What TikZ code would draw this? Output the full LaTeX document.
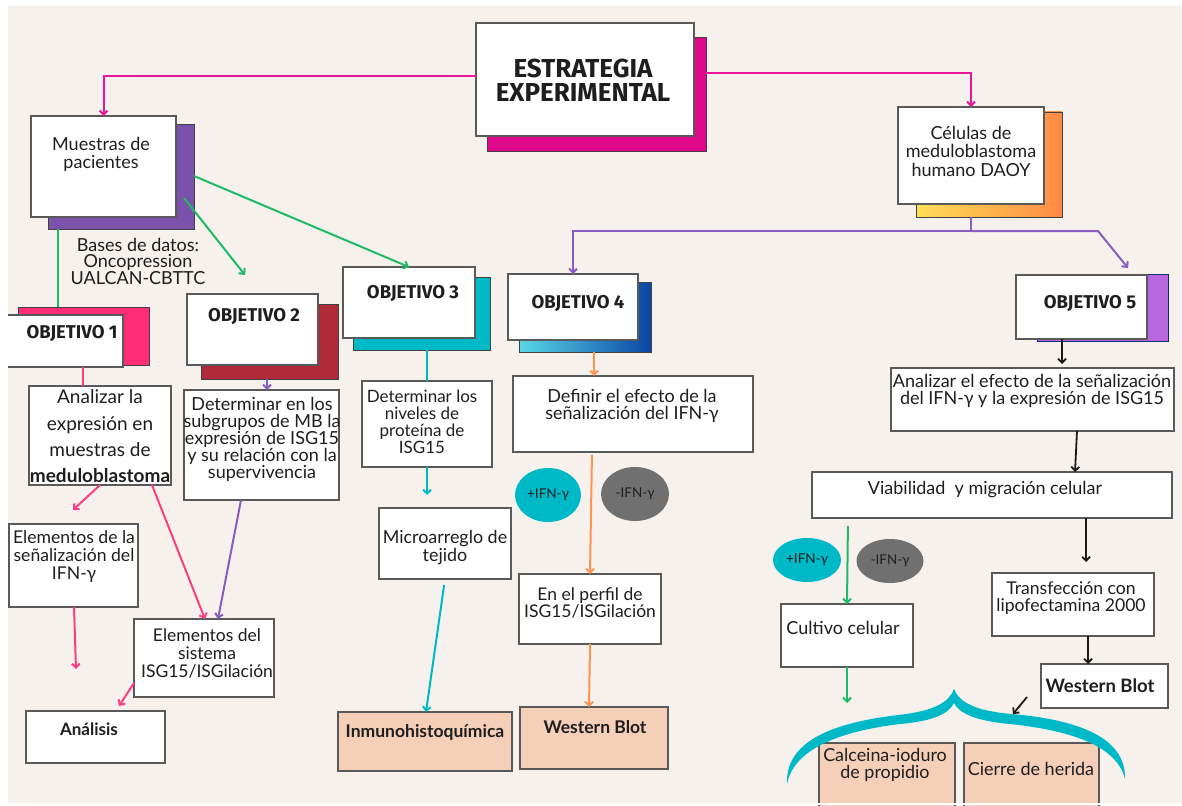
\documentclass[tikz,border=0pt]{standalone}
\usepackage{fontspec}
\setmainfont{Lato}
\newfontfamily\hdr{Fira Sans}
\usetikzlibrary{arrows.meta,fit,shapes.geometric,calc}
\definecolor{bg}{HTML}{F6F1EC}
\definecolor{txt}{HTML}{1E1E1E}
\definecolor{mag}{HTML}{E0088A}
\definecolor{magl}{HTML}{E8179A}
\definecolor{purp}{HTML}{7B52AB}
\definecolor{purl}{HTML}{8A5CC0}
\definecolor{grn}{HTML}{1FBA66}
\definecolor{pinkS}{HTML}{FF2D78}
\definecolor{pinkl}{HTML}{FF3D82}
\definecolor{dred}{HTML}{B02B39}
\definecolor{teal}{HTML}{00B9C6}
\definecolor{orgl}{HTML}{FF9452}
\definecolor{oA}{HTML}{5AD8E6}
\definecolor{oB}{HTML}{0A46A6}
\definecolor{oFive}{HTML}{B768DC}
\definecolor{peach}{HTML}{F5CFB8}
\definecolor{gry}{HTML}{707070}
\definecolor{yel}{HTML}{FFDE55}
\definecolor{org}{HTML}{FF8A45}
\newcommand{\bx}[6][]{\node[fit={(#3,#4) (#5,#6)},inner sep=0pt,outer sep=0pt,rectangle,#1] (#2) {};}
\begin{document}
\begin{tikzpicture}[x=1pt,y=-1pt,
  wb/.style={draw=black!65,line width=1.1pt,fill=white},
  shd/.style={draw=black!75,line width=0.8pt},
  pch/.style={draw=black!65,line width=1.1pt,fill=peach},
  tx/.style={inner sep=0pt,align=center,text=txt,font=\fontsize{18}{17}\selectfont},
  hd/.style={inner sep=0pt,align=center,text=txt,font=\hdr\bfseries\fontsize{18.5}{20}\selectfont},
  bt/.style={inner sep=0pt,align=center,text=txt,font=\bfseries\fontsize{17.5}{19}\selectfont},
  arr/.style={-{Straight Barb[length=4pt,width=8pt]}},
  ell/.style={ellipse,inner sep=0pt,text=txt,font=\fontsize{13.5}{15}\selectfont},
  lmag/.style={draw=magl,line width=2pt},
  lpur/.style={draw=purl,line width=2pt},
  lgrn/.style={draw=grn,line width=2pt},
  lpnk/.style={draw=pinkl,line width=2pt},
  ltea/.style={draw=teal,line width=2pt},
  lorg/.style={draw=orgl,line width=2pt},
  lblk/.style={draw=black!90,line width=1.8pt}]
\useasboundingbox (0,0) rectangle (1182,805);
\fill[white] (0,0) rectangle (1182,805);
\fill[bg] (8,6) rectangle (1182,803);

% main
\bx[shd,fill=mag]{mainS}{487}{37}{706}{151}
\bx[wb]{main}{476}{23}{694}{136}
\node[hd,font=\hdr\bfseries\fontsize{26}{24}\selectfont] (mainT) at (583,80) {ESTRATEGIA\\EXPERIMENTAL};

% muestras
\bx[shd,fill=purp]{muesS}{48}{124}{194}{229}
\bx[wb]{mues}{31}{116}{176}{217}
\node[tx,font=\fontsize{18}{18}\selectfont] (muesT) at (101,154) {Muestras de\\pacientes};

% celulas
\bx[shd,left color=yel,right color=org]{celS}{916}{112}{1062}{217}
\bx[wb]{cel}{898}{107}{1044}{204}
\node[tx,font=\fontsize{18}{18.5}\selectfont] (celT) at (971,151) {Células de\\meduloblastoma\\humano DAOY};

% top connectors
\draw[lmag,arr] (main.west |- 0,76) -| (mues.north);
\draw[lmag,arr] (mainS.east |- 0,73) -| (cel.north);
\coordinate (pj) at (971,231);
\coordinate (pk) at (1098,231);
\coordinate (p5e) at (1128,268);
\draw[lpur] (celS.south -| cel.south) -- (pj);
\draw[lpur,arr] (pj) -- (pk) -- (p5e);

% bases de datos
\node[tx,font=\fontsize{18}{16.5}\selectfont] (bases) at (138,261) {Bases de datos:\\Oncopression\\UALCAN-CBTTC};

% OBJ 1
\bx[shd,fill=pinkS]{obj1S}{18}{307}{149}{365}
\bx[wb]{obj1}{3}{315}{123}{367}
\node[hd] (obj1T) at (72,333) {OBJETIVO 1};
\bx[wb]{ana}{29}{386}{171}{485}
\node[tx,font=\fontsize{19}{26.3}\selectfont] (anaT) at (100,436.5) {Analizar la\\expresión en\\muestras de\\\textbf{meduloblastoma}};
\bx[wb]{sen}{9}{524}{138}{607}
\node[tx,font=\fontsize{17.6}{18}\selectfont] (senT) at (74,557) {Elementos de la\\señalización del\\IFN-γ};
\bx[wb]{sis}{134}{619}{274}{697}
\node[tx,font=\fontsize{17.5}{18}\selectfont] (sisT) at (207,653) {Elementos del\\sistema\\ISG15/ISGilación};
\bx[wb]{anl}{26}{711}{165}{763}
\node[bt,font=\bfseries\fontsize{17}{19}\selectfont] (anlT) at (89,729) {Análisis};

% OBJ 2
\bx[shd,fill=dred]{obj2S}{201}{304}{338}{379}
\bx[wb]{obj2}{187}{294}{318}{365}
\node[hd] (obj2T) at (254,316) {OBJETIVO 2};
\bx[wb]{det}{184}{390}{339}{500}
\node[tx] (detT) at (262,439) {Determinar en los\\subgrupos de MB la\\expresión de ISG15\\y su relación con la\\supervivencia};

% OBJ 3
\bx[shd,fill=teal]{obj3S}{353}{277}{490}{350}
\bx[wb]{obj3}{343}{267}{475}{338}
\node[hd] (obj3T) at (413,293) {OBJETIVO 3};
\bx[wb]{niv}{362}{381}{492}{467}
\node[tx,font=\fontsize{17}{16.8}\selectfont] (nivT) at (422,422) {Determinar los\\niveles de\\proteína de\\ISG15};
\bx[wb]{mic}{379}{508}{511}{579}
\node[tx,font=\fontsize{17.9}{18}\selectfont] (micT) at (445,548) {Microarreglo de\\tejido};
\bx[pch]{inm}{338}{712}{512}{771}
\node[bt] (inmT) at (425,732) {Inmunohistoquímica};
\draw[ltea] (obj3S.south -| 427,0) -- (niv.north -| 427,0);
\draw[ltea,arr,shorten >=13pt] (niv.south -| 427,0) -- (mic.north -| 427,0);
\draw[ltea,arr,shorten <=6pt] (mic.south -| 445,0) -- (inm.north -| 426,0);

% green from muestras
\draw[lgrn] (muesS.south -| 58,0) -- (obj1S.north -| 58,0);
\coordinate (g1e) at (245,275);
\draw[lgrn,arr] ($(muesS.south east)+(-10,-31)$) -- (g1e);
\draw[lgrn,arr] (muesS.east |- 0,176) -- (obj3.north);

% obj1/2 connectors
\draw[lpnk] (obj1.south -| 83,0) -- (ana.north -| 83,0);
\draw[lpur,arr] (obj2S.south -| 267,0) -- (det.north -| 267,0);
\coordinate (p1e) at (73,510);
\draw[lpnk,arr] (ana.south -| 100,0) -- (p1e);
\draw[lpnk,arr] (ana.south -| 152,0) -- (sis.north -| 205,0);
\draw[lpur,arr] (det.south -| 241,0) -- (sis.north -| 218,0);
\coordinate (p2e) at (76,669);
\draw[lpnk,arr] (sen.south -| 74,0) -- (p2e);
\coordinate (p3e) at (119,706);
\draw[lpnk,arr] (sis.west |- 0,683) -- (p3e);

% OBJ 4
\bx[shd,left color=oA,right color=oB]{obj4S}{519}{282}{651}{352}
\bx[wb]{obj4}{508}{274}{638}{340}
\node[hd] (obj4T) at (578,303) {OBJETIVO 4};
\draw[lpur,arr] (pj) -| (obj4.north);
\bx[wb]{def}{513}{376}{753}{452}
\node[tx] (defT) at (632,405.5) {Definir el efecto de la\\señalización del IFN-γ};
\node[ell,fill=teal,minimum width=66pt,minimum height=54pt] (ip4) at (548,495) {+IFN-γ};
\node[ell,fill=gry,minimum width=68pt,minimum height=54pt] (im4) at (635,494) {-IFN-γ};
\bx[wb]{per}{519}{574}{661}{644}
\node[tx,font=\fontsize{17.5}{17}\selectfont] (perT) at (590,602.5) {En el perfil de\\ISG15/ISGilación};
\bx[pch]{wb4}{520}{707}{668}{769}
\node[bt] (wb4T) at (595,727) {Western Blot};
\draw[lorg,arr] (obj4S.south -| 594,0) -- (def.north -| 594,0);
\draw[lorg,arr,shorten <=3pt] (def.south -| 592,0) -- (per.north -| 590,0);
\draw[lorg,arr] (per.south -| 590,0) -- (wb4.north -| 589,0);

% OBJ 5
\bx[shd,fill=oFive,draw=oB!70!black]{obj5S}{1037}{274}{1168}{341}
\bx[wb]{obj5}{1016}{275}{1147}{339}
\node[hd] (obj5T) at (1090,303) {OBJETIVO 5};
\bx[wb]{ane}{891}{368}{1174}{431}
\node[tx] (aneT) at (1032,390.5) {Analizar el efecto de la señalización\\del IFN-γ y la expresión de ISG15};
\bx[wb]{via}{812}{472}{1172}{518}
\node[tx] (viaT) at (985,490) {Viabilidad\ \ y migración celular};
\node[ell,fill=teal,minimum width=68pt,minimum height=44pt] (ip5) at (807,560) {+IFN-γ};
\node[ell,fill=gry,minimum width=67pt,minimum height=44pt] (im5) at (890,561) {-IFN-γ};
\bx[wb]{cul}{781}{604}{913}{667}
\node[tx] (culT) at (843,628) {Cultivo celular};
\bx[wb]{tra}{992}{573}{1154}{636}
\node[tx,font=\fontsize{17.6}{17}\selectfont] (traT) at (1071,598.5) {Transfección con\\lipofectamina 2000};
\bx[wb]{wb5}{1041}{664}{1168}{708}
\node[bt,font=\bfseries\fontsize{18.5}{20}\selectfont] (wb5T) at (1100,686) {Western Blot};
\draw[lblk,arr,shorten >=4pt] (obj5.south -| 1062,0) -- (ane.north -| 1062,0);
\draw[lblk,arr] (ane.south -| 1077,0) -- (via.north -| 1075,0);
\draw[lblk,arr,shorten >=11pt] (via.south -| 1086,0) -- (tra.north -| 1086,0);
\draw[lblk,arr] (tra.south -| 1088,0) -- (wb5.north -| 1088,0);
\coordinate (k1) at (1027,697);
\coordinate (k2) at (1013,714);
\draw[lblk,arr] (k1) -- (k2);
\draw[lgrn,arr,shorten <=8pt] (via.south -| 848,0) -- (cul.north -| 847,0);
\coordinate (g2e) at (847,703);
\draw[lgrn,arr] (cul.south -| 847,0) -- (g2e);

% bottom boxes
\bx[pch]{cal}{819}{743}{955}{815}
\node[tx,font=\fontsize{17.9}{17}\selectfont] (calT) at (885,764.5) {Calceina-ioduro\\de propidio};
\bx[pch]{cie}{964}{743}{1099}{815}
\node[tx] (cieT) at (1031,769) {Cierre de herida};

% brace (tapered)
\fill[teal] (787,784) .. controls (785,738) and (840,722) .. (898,715) .. controls (935,711) and (949,702) .. (954,689) .. controls (959,702) and (975,711) .. (1012,714) .. controls (1080,720) and (1126,738) .. (1125,779)
  .. controls (1117,747) and (1075,731) .. (1010,724) .. controls (975,721) and (959,713) .. (954,703) .. controls (949,713) and (935,721) .. (900,724) .. controls (842,731) and (794,748) .. (787,784) -- cycle;

% margins
\fill[white] (0,0) rectangle (8,805);
\fill[white] (0,0) rectangle (1182,6);
\fill[white] (0,803) rectangle (1182,805);
\end{tikzpicture}
\end{document}
